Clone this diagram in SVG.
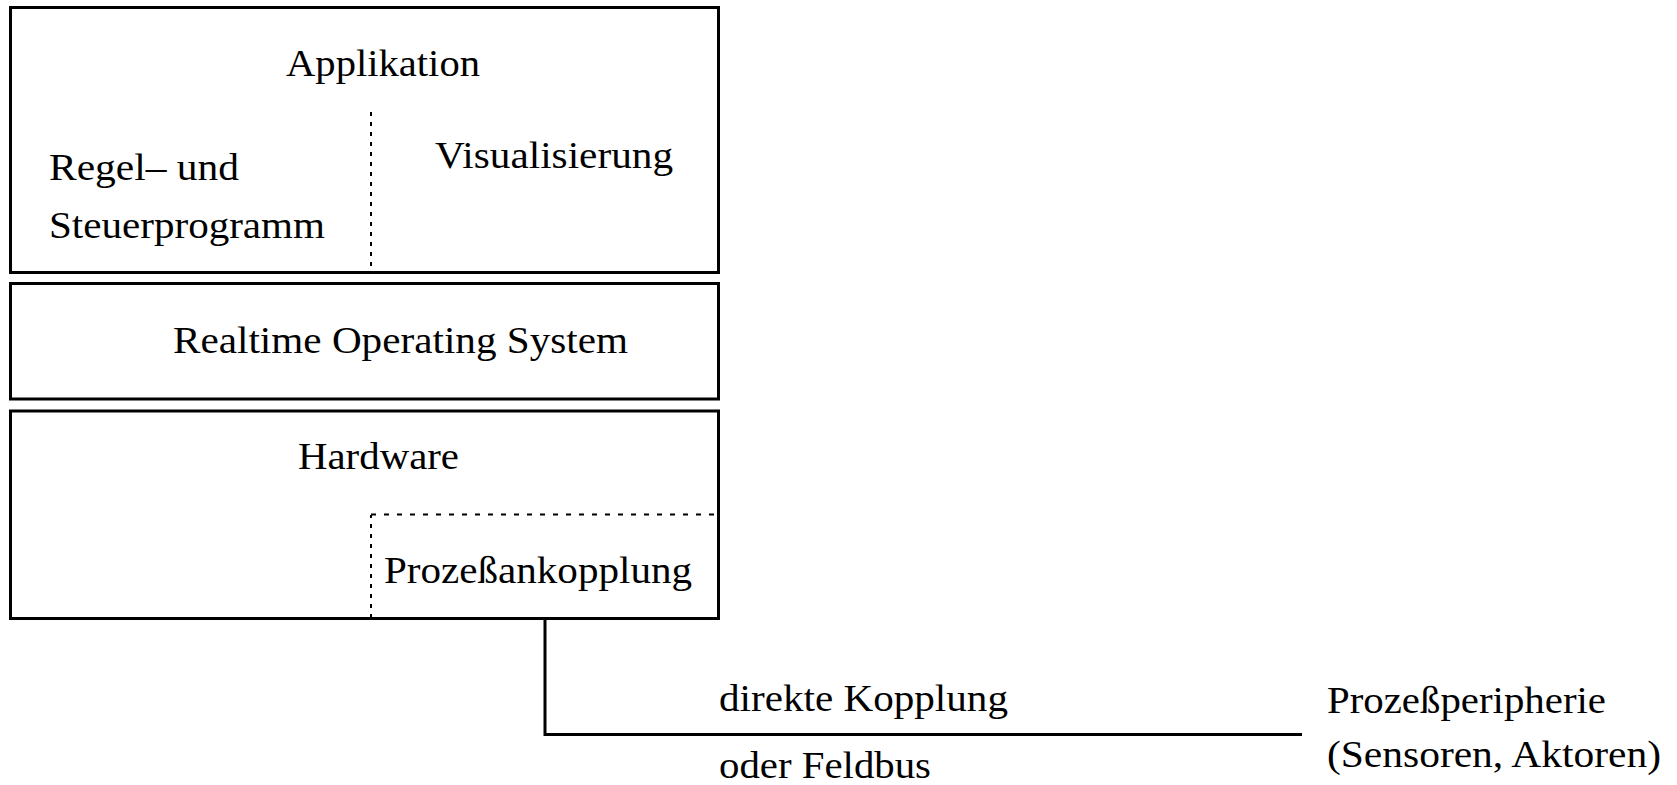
<svg xmlns="http://www.w3.org/2000/svg" width="1677" height="785" viewBox="0 0 1677 785">
  <style>
    .box { fill: #ffffff; stroke: #000000; stroke-width: 3; }
    .dotv { fill: none; stroke: #000000; stroke-width: 2; stroke-dasharray: 4 6; }
    .doth { fill: none; stroke: #000000; stroke-width: 2; stroke-dasharray: 5 8; }
    .wire { fill: none; stroke: #000000; stroke-width: 3; }
    text { font-family: "Liberation Serif", "Times New Roman", serif; font-size: 38px; fill: #000000; }
  </style>
  <rect width="1677" height="785" fill="#ffffff"/>

  <!-- Application layer -->
  <g id="applikation">
    <rect class="box" x="10.5" y="7.5" width="708" height="265"/>
    <line class="dotv" x1="371" y1="112" x2="371" y2="272"/>
    <text x="286" y="76" textLength="194" lengthAdjust="spacingAndGlyphs">Applikation</text>
    <text x="49" y="180" textLength="190" lengthAdjust="spacingAndGlyphs">Regel– und</text>
    <text x="49" y="238" textLength="276" lengthAdjust="spacingAndGlyphs">Steuerprogramm</text>
    <text x="435" y="168" textLength="238" lengthAdjust="spacingAndGlyphs">Visualisierung</text>
  </g>

  <!-- Operating system layer -->
  <g id="rtos">
    <rect class="box" x="10.5" y="283.5" width="708" height="115.5"/>
    <text x="173" y="353" textLength="455" lengthAdjust="spacingAndGlyphs">Realtime Operating System</text>
  </g>

  <!-- Hardware layer with process interface corner -->
  <g id="hardware">
    <rect class="box" x="10.5" y="411" width="708" height="207.5"/>
    <path class="dotv" d="M371 618 V515"/>
    <path class="doth" d="M371 514.5 H716"/>
    <text x="298" y="469" textLength="161" lengthAdjust="spacingAndGlyphs">Hardware</text>
    <text x="384" y="583" textLength="308" lengthAdjust="spacingAndGlyphs">Prozeßankopplung</text>
  </g>

  <!-- Field devices -->
  <g id="peripherie">
    <text x="1327" y="713" textLength="279" lengthAdjust="spacingAndGlyphs">Prozeßperipherie</text>
    <text x="1327" y="767" textLength="334" lengthAdjust="spacingAndGlyphs">(Sensoren, Aktoren)</text>
  </g>

  <!-- Connection from process interface to periphery -->
  <g id="connectors">
    <path class="wire" d="M545 618 V734.5 H1302"/>
    <text x="719" y="711" textLength="289" lengthAdjust="spacingAndGlyphs">direkte Kopplung</text>
    <text x="719" y="778" textLength="212" lengthAdjust="spacingAndGlyphs">oder Feldbus</text>
  </g>
</svg>
